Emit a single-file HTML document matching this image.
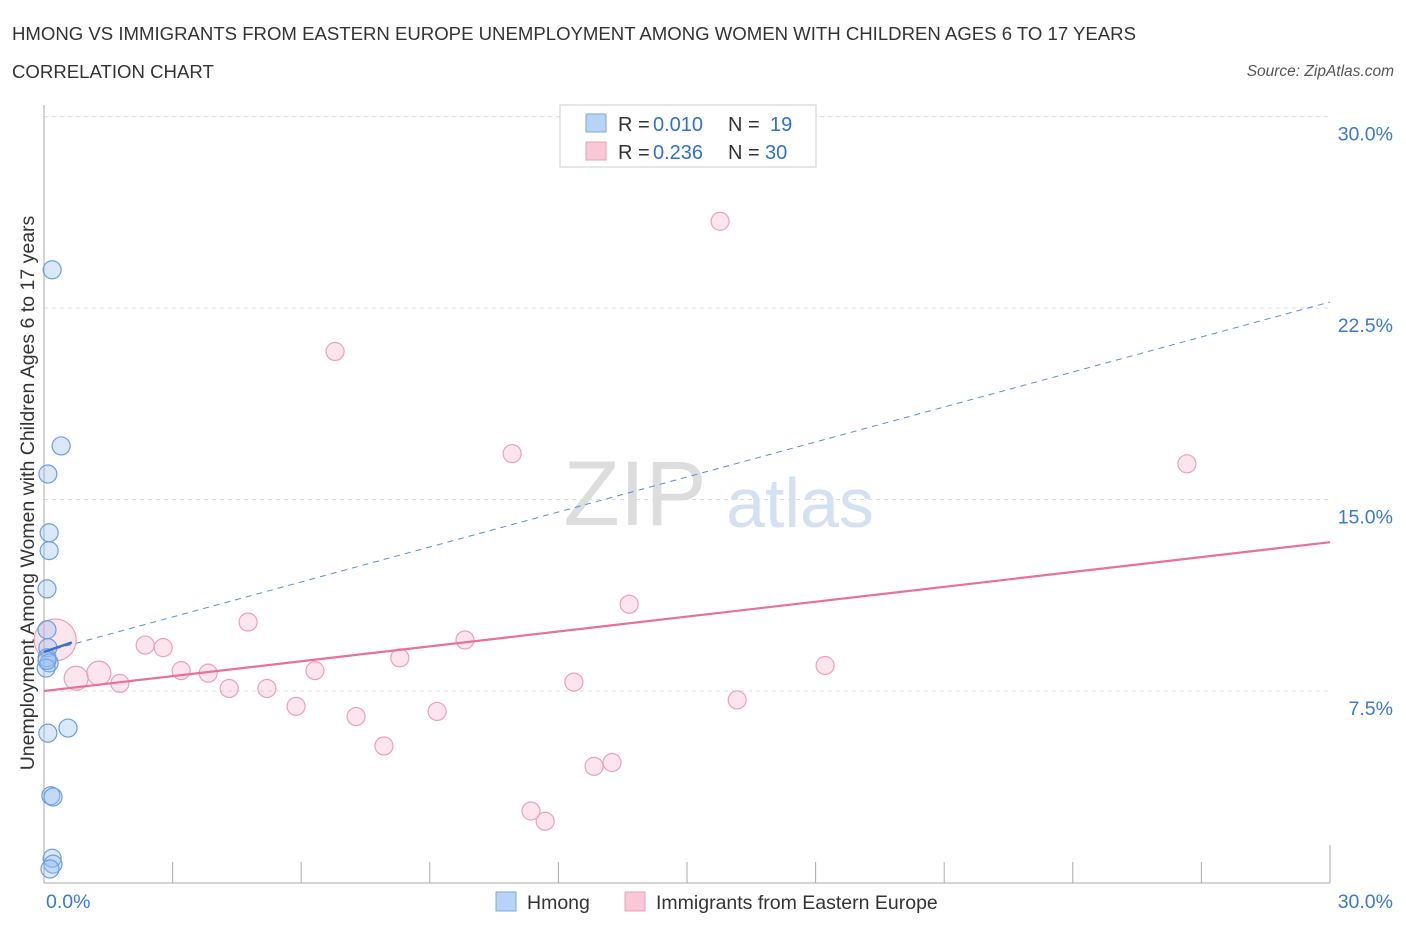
<!DOCTYPE html>
<html><head><meta charset="utf-8"><style>
body{margin:0;background:#fff;font-family:"Liberation Sans",sans-serif}
svg text{font-family:"Liberation Sans",sans-serif}
</style></head><body>
<svg id="c" width="1406" height="930">
<text x="12" y="40" font-size="18.6" fill="#333" textLength="1124">HMONG VS IMMIGRANTS FROM EASTERN EUROPE UNEMPLOYMENT AMONG WOMEN WITH CHILDREN AGES 6 TO 17 YEARS</text>
<text x="12" y="78" font-size="18.6" fill="#333">CORRELATION CHART</text>
<text x="1394" y="76" font-size="15.5" fill="#555" font-style="italic" text-anchor="end">Source: ZipAtlas.com</text>
<text x="34" y="493" font-size="19.5" fill="#333" text-anchor="middle" transform="rotate(-90 34 493)">Unemployment Among Women with Children Ages 6 to 17 years</text>
<text x="635" y="525" font-size="92" fill="#ddd" font-family="Liberation Serif" text-anchor="middle">ZIP</text>
<text x="800" y="527" font-size="70" fill="#d3e1f3" text-anchor="middle">atlas</text>
<g id="grid"></g><g id="axes"></g><g id="marks"></g>
<g font-size="20">
<rect x="560" y="105" width="256" height="62" fill="#fff" stroke="#ccc"/>
<rect x="586" y="114" width="20" height="18" fill="#b8d3f5" stroke="#7aa8e0"/>
<rect x="586" y="142" width="20" height="18" fill="#f8c8d6" stroke="#eaa0b8"/>
<text x="618" y="131" fill="#333">R =</text><text x="653" y="131" fill="#2f6fd0">0.010</text>
<text x="728" y="131" fill="#333">N =</text><text x="770" y="131" fill="#2f6fd0">19</text>
<text x="618" y="159" fill="#333">R =</text><text x="653" y="159" fill="#2f6fd0">0.236</text>
<text x="728" y="159" fill="#333">N =</text><text x="765" y="159" fill="#2f6fd0">30</text>
</g>
<g>
<rect x="496" y="892" width="20" height="19" fill="#b8d3f5" stroke="#7aa8e0"/>
<text x="527" y="909" font-size="19.5" fill="#333">Hmong</text>
<rect x="625" y="892" width="20" height="19" fill="#f8c8d6" stroke="#eaa0b8"/>
<text x="656" y="909" font-size="19.5" fill="#333">Immigrants from Eastern Europe</text>
</g>
</svg>
<script>
const yTicks=[7.5,15.0,22.5,30.0];
const hmongX=[0.19,0.40,0.09,0.12,0.12,0.07,0.07,0.09,0.07,0.12,0.05,0.56,0.09,0.16,0.21,0.19,0.21,0.14,0.07];
const hmongY=[24.0,17.1,16.0,13.7,13.0,11.5,9.9,9.2,8.8,8.6,8.4,6.05,5.85,3.4,3.35,0.95,0.72,0.53,8.7];
const eeX=[15.77,6.79,10.92,26.66,13.65,4.76,2.36,2.78,9.82,0.26,8.30,6.32,3.20,3.83,18.22,1.28,0.75,1.77,4.32,5.20,12.36,16.17,5.88,7.28,9.17,7.93,12.83,13.25,11.36,11.69];
const eeY=[25.9,20.8,16.8,16.4,10.9,10.2,9.3,9.2,9.5,9.5,8.8,8.3,8.3,8.2,8.5,8.2,8.0,7.8,7.6,7.6,7.85,7.15,6.9,6.5,6.7,5.35,4.55,4.7,2.8,2.4];
const eeR=[9,9,9,9,9,9,9,9,9,21,9,9,9,9,9,12,12,9,9,9,9,9,9,9,9,9,9,9,9,9];
const eeTrend=[7.5,13.33];
const hmTrend=[9.03,22.74];
const NS='http://www.w3.org/2000/svg';
const sx=v=>44+v*42.87, sy=v=>882.5-v*25.53;
function mk(t,a,p){const e=document.createElementNS(NS,t);for(const k in a)e.setAttribute(k,a[k]);p.appendChild(e);return e;}
const grid=document.getElementById('grid'),axes=document.getElementById('axes'),marks=document.getElementById('marks');
yTicks.forEach(t=>{const l=mk('line',{x1:44,x2:1330,y1:sy(t),y2:sy(t),stroke:'#ddd','stroke-dasharray':'4 4'},grid);


const tx=mk('text',{x:1393,y:sy(t)+24,'font-size':19.5,fill:'#3a78d4','text-anchor':'end'},axes);tx.textContent=t.toFixed(1)+'%';

});
mk('line',{x1:44,x2:44,y1:105,y2:883,stroke:'#aaa'},axes);
mk('line',{x1:44,x2:1330,y1:883,y2:883,stroke:'#aaa'},axes);
for(let i=0;i<=10;i++){const x=44+i*128.6;mk('line',{x1:x,x2:x,y1:883,y2:i==0||i==10?845:862,stroke:'#aaa'},axes);}
let t0=mk('text',{x:46,y:908,'font-size':19.5,fill:'#3a78d4'},axes);t0.textContent='0.0%';


let t1=mk('text',{x:1393,y:908,'font-size':19.5,fill:'#3a78d4','text-anchor':'end'},axes);t1.textContent='30.0%';


eeX.forEach((v,i)=>{const c=mk('circle',{cx:sx(v),cy:sy(eeY[i]),r:eeR[i],fill:'rgba(246,170,195,0.3)',stroke:'#eda0b8','stroke-width':1.2},marks);

});
hmongX.forEach((v,i)=>{const c=mk('circle',{cx:sx(v),cy:sy(hmongY[i]),r:9,fill:'rgba(150,190,240,0.35)',stroke:'#6a9fe0','stroke-width':1.2},marks);

});
const l1=mk('line',{x1:sx(0),y1:sy(hmTrend[0]),x2:sx(30),y2:sy(hmTrend[1]),stroke:'#5a8fdc','stroke-width':1,'stroke-dasharray':'6 5'},marks);


const l1s=mk('line',{x1:sx(0),y1:sy(hmTrend[0]),x2:sx(0.65),y2:sy(hmTrend[0]+(hmTrend[1]-hmTrend[0])*0.65/30)-2,stroke:'#3a6fd0','stroke-width':2.5},marks);


const l2=mk('line',{x1:sx(0),y1:sy(eeTrend[0]),x2:sx(30),y2:sy(eeTrend[1]),stroke:'#e8709a','stroke-width':2.2},marks);


</script>
</body></html>
